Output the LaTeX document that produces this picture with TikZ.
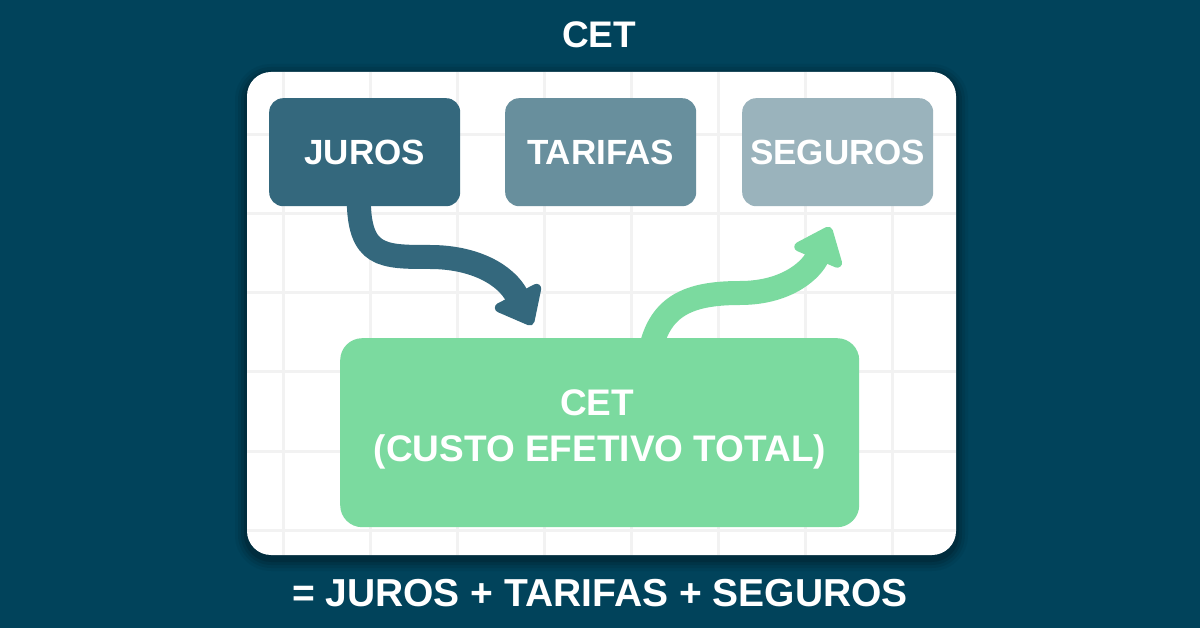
\documentclass[tikz,border=0pt]{standalone}
\usepackage{fontspec}
\setmainfont{Liberation Sans}
\usetikzlibrary{arrows.meta,calc}
\definecolor{bg}{HTML}{01435B}
\definecolor{cjuros}{HTML}{34687D}
\definecolor{ctarifas}{HTML}{688F9D}
\definecolor{cseguros}{HTML}{9AB3BC}
\definecolor{cgreen}{HTML}{7BDA9F}
\definecolor{cgrid}{HTML}{F2F2F2}
\tikzset{
  capsfont/.style={font=\fontsize{#1}{#1}\selectfont\bfseries, text height=0.716*#1 pt, text depth=0pt},
  topbox/.style={rounded corners=14pt, minimum width=191pt, minimum height=108pt,
    inner sep=0pt, text=white, capsfont=35, anchor=north west},
  flowarrow/.style={line width=24pt, -{Triangle[length=38pt,width=59pt,round]}},
  label/.style={text=white, inner sep=0pt}
}
\begin{document}
\begin{tikzpicture}[x=1pt,y=-1pt]
\useasboundingbox (0,0) rectangle (1200,628);
\fill[bg] (0,0) rectangle (1200,628);
% shadow
\foreach \s/\o in {12/0.05,9/0.07,6/0.09,3/0.12}{
  \fill[black,opacity=\o,rounded corners=24pt+\s pt] (247-\s,72-\s+4) rectangle (956+\s,555+\s+4);
}
% panel
\fill[white,rounded corners=24pt] (247,72) rectangle (956,555);
\begin{scope}
  \clip[rounded corners=24pt] (247,72) rectangle (956,555);
  \foreach \gx in {283,370,457,544,631,718,805,892}{
    \draw[cgrid,line width=3pt] (\gx,72) -- (\gx,555);
  }
  \foreach \gy in {135,214,293,372,451,530}{
    \draw[cgrid,line width=3pt] (247,\gy) -- (956,\gy);
  }
\end{scope}
% title
\node[label,capsfont=37] (title) at (599,34) {CET};
% top boxes
\node[topbox,fill=cjuros] (juros) at (269,98) {JUROS};
\node[topbox,fill=ctarifas] (tarifas) at (505,98) {TARIFAS};
\node[topbox,fill=cseguros] (seguros) at (742,98) {SEGUROS};
% CET box
\node[rounded corners=22pt, fill=cgreen, minimum width=519pt, minimum height=189pt,
  inner sep=0pt, anchor=north west] (cet) at (340,338) {};
\node[label,capsfont=37] (cetA) at (597,402) {CET};
\node[label,capsfont=37] (cetB) at (600,448) {(CUSTO EFETIVO TOTAL)};
% arrows
\coordinate (jstart) at ($(juros.south)+(-6,-8)$);
\coordinate (jend) at (532,325);
\draw[flowarrow,cjuros] (jstart) .. controls (359,257) and (382,257) .. (430,257)
   .. controls (475,257) and (506,275) .. (jend);
\coordinate (gstart) at ($(cet.north west)+(312,6)$);
\coordinate (gend) at (830,227);
\draw[flowarrow,cgreen] (gstart) .. controls (663,304) and (692,293) .. (740,293)
   .. controls (790,293) and (813,267) .. (gend);
% bottom formula
\node[label,capsfont=39] (formula) at (600,593) {= JUROS + TARIFAS + SEGUROS};
\end{tikzpicture}
\end{document}
